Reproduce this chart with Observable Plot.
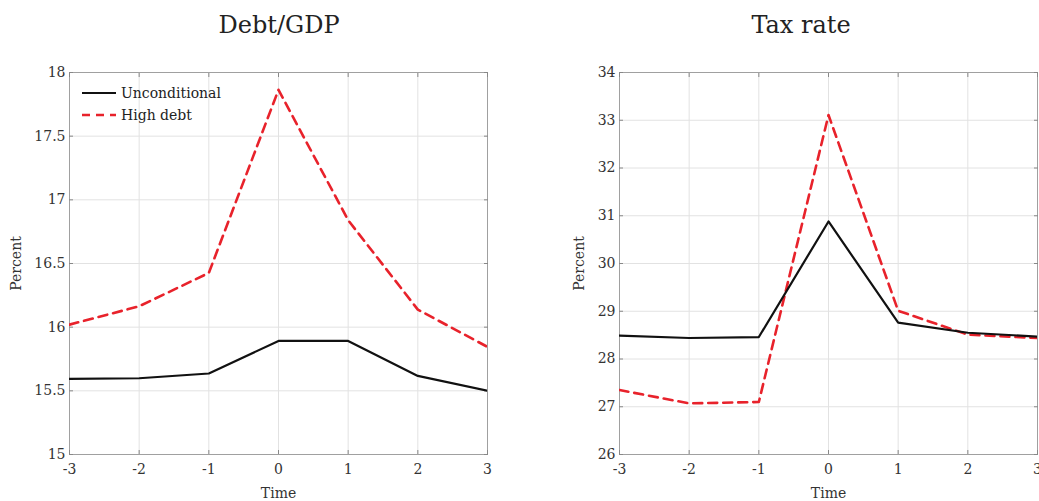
<!DOCTYPE html>
<html>
<head>
<meta charset="utf-8">
<script src="https://cdn.jsdelivr.net/npm/d3@7"></script>
<script src="https://cdn.jsdelivr.net/npm/@observablehq/plot@0.6"></script>
<style>
  html, body { margin: 0; padding: 0; background: #fff; overflow: hidden; }
  body { width: 1039px; height: 501px; position: relative; font-family: "DejaVu Serif", "Liberation Serif", serif; }
  .title { position: absolute; top: 11px; font-size: 24px; color: #222; text-align: center; }
  .panel { position: absolute; top: 50px; }
  .legend { position: absolute; font-size: 14px; color: #222; line-height: 22px; }
  .legend div { display: flex; align-items: center; }
  .legend svg { margin-right: 5px; }
</style>
</head>
<body>
<div class="title" style="left:79px;width:400px;">Debt/GDP</div>
<div class="title" style="left:601px;width:400px;">Tax rate</div>
<div id="p1" class="panel" style="left:0px;"></div>
<div id="p2" class="panel" style="left:530px;"></div>
<div class="legend" style="left:82px;top:82px;">
  <div><svg width="34" height="10"><line x1="0" x2="34" y1="5" y2="5" stroke="#111" stroke-width="2"/></svg>Unconditional</div>
  <div><svg width="34" height="10"><line x1="0" x2="34" y1="5" y2="5" stroke="#e8222b" stroke-width="2.5" stroke-dasharray="8,6"/></svg>High debt</div>
</div>
<script>
const time = [-3, -2, -1, 0, 1, 2, 3];
const debtUnconditional = [15.594, 15.599, 15.636, 15.892, 15.892, 15.617, 15.50];
const debtHigh = [16.02, 16.164, 16.426, 17.864, 16.84, 16.138, 15.845];
const taxUnconditional = [28.49, 28.44, 28.46, 30.88, 28.76, 28.55, 28.47];
const taxHigh = [27.35, 27.07, 27.10, 33.11, 29.01, 28.51, 28.44];
const xTicks = [-3, -2, -1, 0, 1, 2, 3];
const debtTicks = [15, 15.5, 16, 16.5, 17, 17.5, 18];
const taxTicks = [26, 27, 28, 29, 30, 31, 32, 33, 34];

function rows(u, h) {
  return time.map((t, i) => ({t, u: u[i], h: h[i]}));
}

function panel(data, yDomain, yTicks, marginLeft, width, yLabelOffset) {
  const fmt = d => String(d);
  return Plot.plot({
    width, height: 451,
    marginLeft, marginRight: width - marginLeft - 418, marginTop: 22, marginBottom: 47,
    style: {fontFamily: '"DejaVu Serif", "Liberation Serif", serif', fontSize: "14px", color: "#333", overflow: "visible"},
    x: {domain: [-3, 3]},
    y: {domain: yDomain},
    marks: [
      Plot.gridX(xTicks, {stroke: "#e2e2e2", strokeOpacity: 1}),
      Plot.gridY(yTicks, {stroke: "#e2e2e2", strokeOpacity: 1}),
      Plot.frame({stroke: "#a0a0a0"}),
      Plot.axisX(xTicks, {anchor: "bottom", tickSize: -4, tickPadding: 14, tickFormat: fmt, stroke: "#888", label: "Time", labelAnchor: "center", labelArrow: "none", labelOffset: 43, fontSize: 14}),
      Plot.axisX(xTicks, {anchor: "top", tickSize: -4, tickFormat: () => "", stroke: "#888", label: null}),
      Plot.axisY(yTicks, {anchor: "left", tickSize: -4, tickPadding: 8, tickFormat: fmt, stroke: "#888", label: "Percent", labelAnchor: "center", labelArrow: "none", labelOffset: yLabelOffset, fontSize: 14}),
      Plot.axisY(yTicks, {anchor: "right", tickSize: -4, tickFormat: () => "", stroke: "#888", label: null}),
      Plot.line(data, {x: "t", y: "h", stroke: "#e8222b", strokeWidth: 2.6, strokeDasharray: "9,6", clip: true}),
      Plot.line(data, {x: "t", y: "u", stroke: "#111", strokeWidth: 2.2, clip: true})
    ]
  });
}

document.getElementById("p1").append(panel(rows(debtUnconditional, debtHigh), [15, 18], debtTicks, 69, 500, 58));
document.getElementById("p2").append(panel(rows(taxUnconditional, taxHigh), [26, 34], taxTicks, 89, 509, 45));
</script>
</body>
</html>
